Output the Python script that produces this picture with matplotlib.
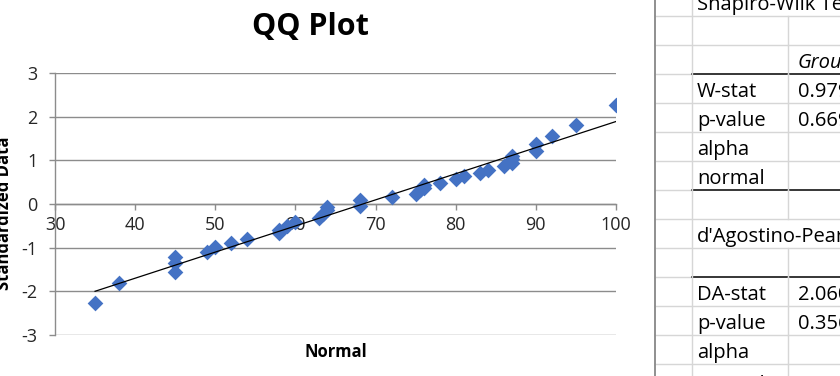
import numpy as np
import matplotlib
matplotlib.use("Agg")
import matplotlib.pyplot as plt
from matplotlib.lines import Line2D

# ---- data ----
normal_x = [35, 38, 45, 45, 45, 49, 50, 52, 54, 58, 58, 59, 60, 63, 63.5, 64, 64,
            68, 68, 72, 75, 75.5, 76, 76, 78, 80, 81, 83, 84, 86, 87, 87, 87,
            90, 90, 92, 95, 100]
std_y = [-2.26, -1.80, -1.22, -1.36, -1.55, -1.10, -0.99, -0.89, -0.80, -0.67, -0.60,
         -0.50, -0.42, -0.33, -0.22, -0.14, -0.08, 0.10, -0.05, 0.16, 0.23, 0.31,
         0.37, 0.44, 0.49, 0.58, 0.63, 0.71, 0.79, 0.88, 0.95, 1.03, 1.09,
         1.22, 1.38, 1.55, 1.80, 2.26]
x_ticks = [30, 40, 50, 60, 70, 80, 90, 100]
y_ticks = [-3, -2, -1, 0, 1, 2, 3]

title = "QQ Plot"
x_label = "Normal"
y_label = "Standardized Data"

sheet_labels = ["Shapiro-Wilk Test", "", "", "W-stat", "p-value", "alpha", "normal", "",
                "d'Agostino-Pearson", "", "DA-stat", "p-value", "alpha", "normal"]
sheet_values = ["", "", "Group", "0.9797", "0.6695", "", "", "", "", "", "2.0606", "0.3569", "", ""]

W, H = 840, 376
FONT = "Open Sans"
plt.rcParams['font.family'] = [FONT, 'DejaVu Sans']

fig = plt.figure(figsize=(W / 100, H / 100), dpi=100)
fig.patch.set_facecolor('white')

def fx(px):
    return px / W

def fy(py):
    return 1 - py / H

# axes box in pixels
L, R, T, B = 55, 616, 73, 335
ax = fig.add_axes([fx(L), fy(B), fx(R) - fx(L), fy(T) - fy(B)])

ax.set_xlim(30, 100)
ax.set_ylim(-3, 3)
ax.set_xticks(x_ticks)
ax.set_yticks(y_ticks)
ax.set_yticklabels([str(v) for v in y_ticks])

grid_c = '#8c8c8c'
for s in ['top', 'right']:
    ax.spines[s].set_visible(False)
ax.spines['bottom'].set_position(('data', 0))
ax.spines['bottom'].set_color(grid_c)
ax.spines['left'].set_color(grid_c)
ax.spines['bottom'].set_linewidth(1.0)
ax.spines['left'].set_linewidth(1.0)

ax.yaxis.grid(True, color=grid_c, linewidth=1.0)
ax.set_axisbelow(True)
ax.tick_params(axis='both', direction='out', length=4.3, width=1.0, color=grid_c,
               labelsize=13, labelcolor='#262626')
ax.tick_params(axis='x', pad=4.5)
ax.tick_params(axis='y', pad=8.5)

ax.scatter(normal_x, std_y, marker='D', s=64, color='#4472C4', linewidths=0, zorder=3)

# linear trendline
coef = np.polyfit(normal_x, std_y, 1)
xs = np.array([min(normal_x), max(normal_x)])
ax.plot(xs, np.polyval(coef, xs), color='black', linewidth=0.9, zorder=4)

fig.text(fx(310), fy(27), title, ha='center', va='center', fontsize=22,
         fontweight='bold', color='black')
fig.text(fx(336), fy(352), x_label, ha='center', va='center', fontsize=12,
         fontweight='bold', color='black')
fig.text(fx(4), fy(213), y_label, ha='center', va='center', rotation=90,
         fontsize=12, fontweight='bold', color='black')

# ---- spreadsheet part on the right ----
light = '#d6d6d6'
def hline(py, x0, x1, color, lw=1.0):
    fig.add_artist(Line2D([fx(x0), fx(x1)], [fy(py), fy(py)], color=color,
                          linewidth=lw, transform=fig.transFigure))

def vline(px, y0, y1, color, lw=1.0):
    fig.add_artist(Line2D([fx(px), fx(px)], [fy(y0), fy(y1)], color=color,
                          linewidth=lw, transform=fig.transFigure))

row_bottoms = [15.7 + 29 * i for i in range(14)]
row_tops = [-13.3] + row_bottoms[:-1]
black_rows = {2, 6, 9}
for i, yb in enumerate(row_bottoms):
    if i in black_rows:
        hline(yb, 655, 692, light)
        hline(yb, 692, 840, 'black', 1.1)
    else:
        hline(yb, 655, 840, light)

vline(692, 0, H, light)
for i, (yt, yb) in enumerate(zip(row_tops, row_bottoms)):
    if i in (0, 8):
        continue
    vline(788, max(yt, 0), min(yb, H), light)

vline(655, 0, H, '#8f8f8f', 1.4)

for i, yb in enumerate(row_bottoms):
    lab = sheet_labels[i]
    val = sheet_values[i]
    base = yb - 6 if i < 13 else yb - 3
    if lab:
        fig.text(fx(697), fy(base), lab, ha='left', va='baseline',
                 fontsize=14.5, color='black')
    if val:
        fig.text(fx(798), fy(base), val, ha='left', va='baseline',
                 fontsize=14.5, color='black', style='italic' if val == 'Group' else 'normal')

fig.savefig('out.png', dpi=100, facecolor='white')
